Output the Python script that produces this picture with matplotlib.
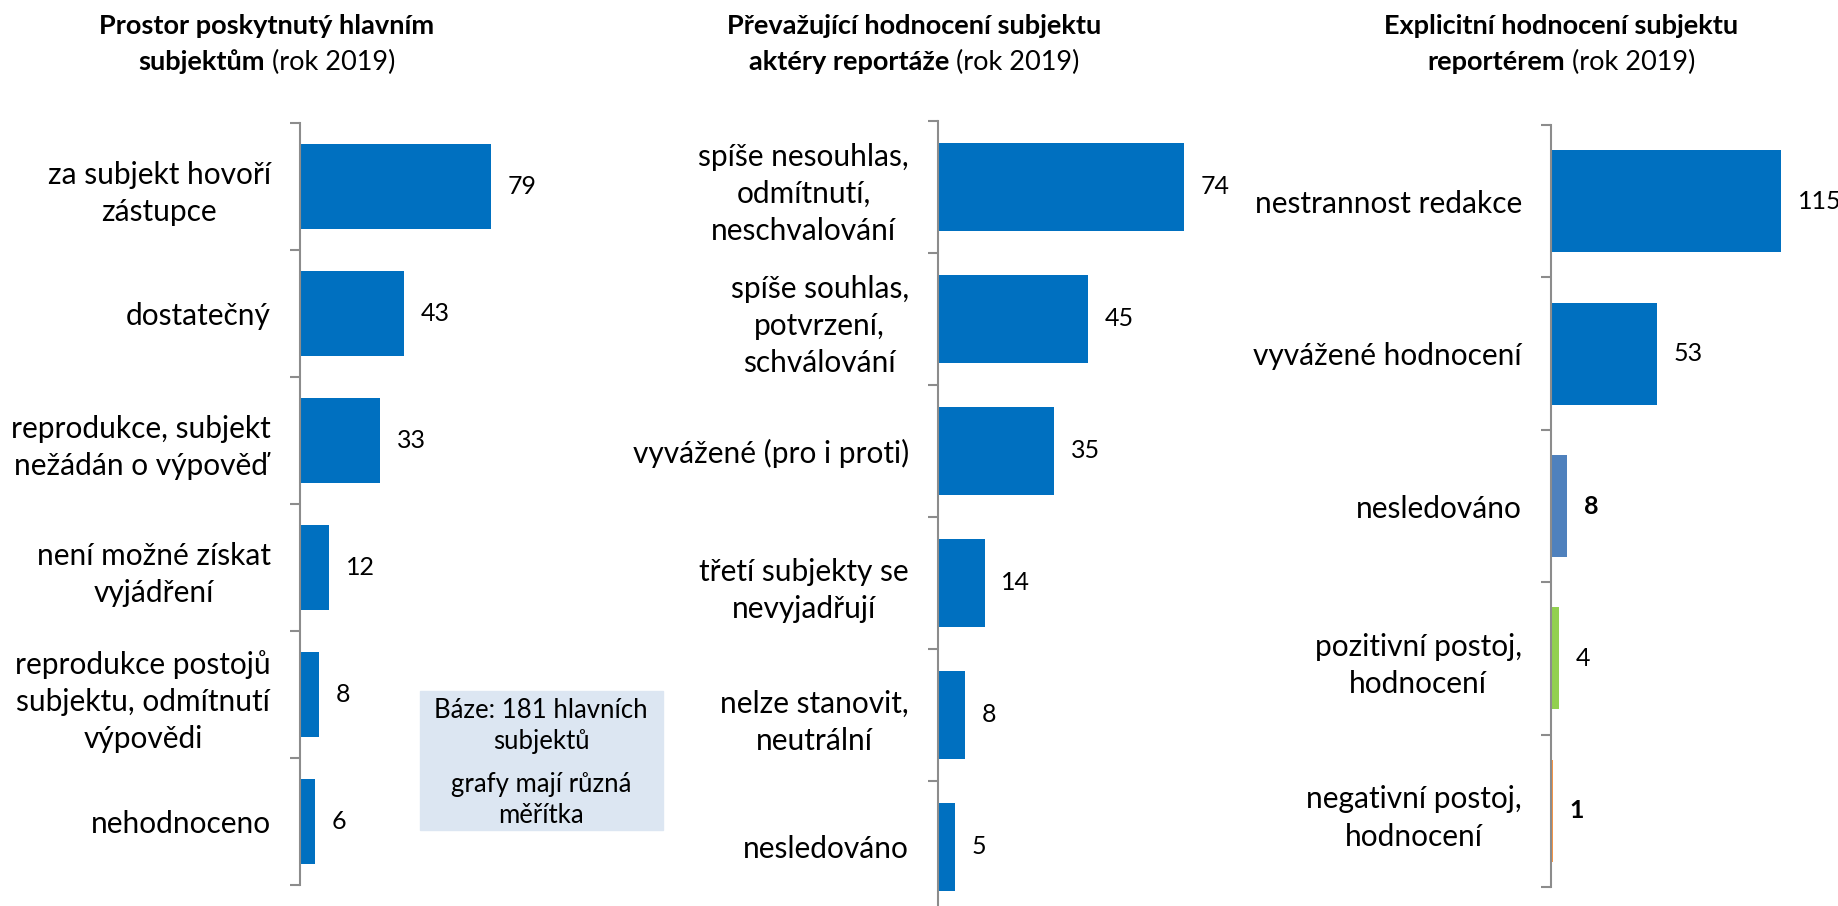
import matplotlib
matplotlib.use("Agg")
import matplotlib.pyplot as plt
import numpy as np

plt.rcParams['font.family'] = ['Lato', 'DejaVu Sans']

# data
cats1 = ["za subjekt hovoří\nzástupce", "dostatečný", "reprodukce, subjekt\nnežádán o výpověď",
         "není možné získat\nvyjádření", "reprodukce postojů\nsubjektu, odmítnutí\nvýpovědi", "nehodnoceno"]
vals1 = [79, 43, 33, 12, 8, 6]

cats2 = ["spíše nesouhlas,\nodmítnutí,\nneschvalování", "spíše souhlas,\npotvrzení,\nschválování",
         "vyvážené (pro i proti)", "třetí subjekty se\nnevyjadřují", "nelze stanovit,\nneutrální", "nesledováno"]
vals2 = [74, 45, 35, 14, 8, 5]

cats3 = ["nestrannost redakce", "vyvážené hodnocení", "nesledováno",
         "pozitivní postoj,\nhodnocení", "negativní postoj,\nhodnocení"]
vals3 = [115, 53, 8, 4, 1]
colors3 = ["#0070C0", "#0070C0", "#4F81BD", "#92D050", "#F79646"]
bold3 = [False, False, True, False, True]

titles = [("Prostor poskytnutý hlavním", "subjektům", " (rok 2019)"),
          ("Převažující hodnocení subjektu", "aktéry reportáže", " (rok 2019)"),
          ("Explicitní hodnocení subjektu", "reportérem", " (rok 2019)")]

W, H = 1838, 906
fig = plt.figure(figsize=(W / 100, H / 100), dpi=100)

def panel(left, top, bottom, width, cats, vals, xmax, colors=None, bolds=None):
    ax = fig.add_axes([left / W, (H - bottom) / H, width / W, (bottom - top) / H])
    n = len(cats)
    y = np.arange(n)
    cols = colors if colors else ["#0070C0"] * n
    ax.barh(y, vals, height=0.67, color=cols)
    ax.set_ylim(n - 0.5, -0.5)
    ax.set_xlim(0, xmax)
    for s in ['top', 'right', 'bottom']:
        ax.spines[s].set_visible(False)
    ax.spines['left'].set_color('#8C8C8C')
    ax.spines['left'].set_linewidth(1.5)
    ax.set_xticks([])
    ax.set_yticks(y)
    ax.set_yticklabels(cats, fontsize=21.5, multialignment='center', linespacing=1.4)
    ax.tick_params(axis='y', which='major', length=0, pad=21)
    ax.set_yticks(np.arange(n + 1) - 0.5, minor=True)
    ax.tick_params(axis='y', which='minor', length=7, width=1.5, color='#8C8C8C')
    for i, v in enumerate(vals):
        fw = 'bold' if (bolds and bolds[i]) else 'normal'
        ax.annotate(str(v), (v, i), xytext=(12, 0), textcoords='offset points',
                    va='center', ha='left', fontsize=18, fontweight=fw)
    return ax

panel(300, 123, 885, 242, cats1, vals1, 100)
panel(938, 121, 913, 266, cats2, vals2, 80)
panel(1551, 125, 887, 260, cats3, vals3, 130, colors3, bold3)

# titles with mixed weight
fig.canvas.draw()
r = fig.canvas.get_renderer()
centers = [267, 914, 1561]
for (l1, b2, r2), cx in zip(titles, centers):
    fig.text(cx / W, 1 - 26 / H, l1, ha='center', va='center', fontsize=19.5, fontweight='bold')
    tb = fig.text(0, 1 - 62 / H, b2, ha='left', va='center', fontsize=19.5, fontweight='bold')
    tr = fig.text(0, 1 - 62 / H, r2, ha='left', va='center', fontsize=19.5)
    wb = tb.get_window_extent(r).width
    wr = tr.get_window_extent(r).width
    x0 = cx - (wb + wr) / 2
    tb.set_x(x0 / W)
    tr.set_x((x0 + wb) / W)

# note box
fig.patches.append(plt.Rectangle((420 / W, 1 - 830 / H), 243 / W, 139 / H,
                                 transform=fig.transFigure, color='#DCE6F2', zorder=0))
fig.text(541 / W, 1 - 726 / H, "Báze: 181 hlavních\nsubjektů", ha='center', va='center',
         fontsize=18.5, linespacing=1.3)
fig.text(541 / W, 1 - 800 / H, "grafy mají různá\nměřítka", ha='center', va='center',
         fontsize=18.5, linespacing=1.3)

fig.savefig("out.png", dpi=100)
